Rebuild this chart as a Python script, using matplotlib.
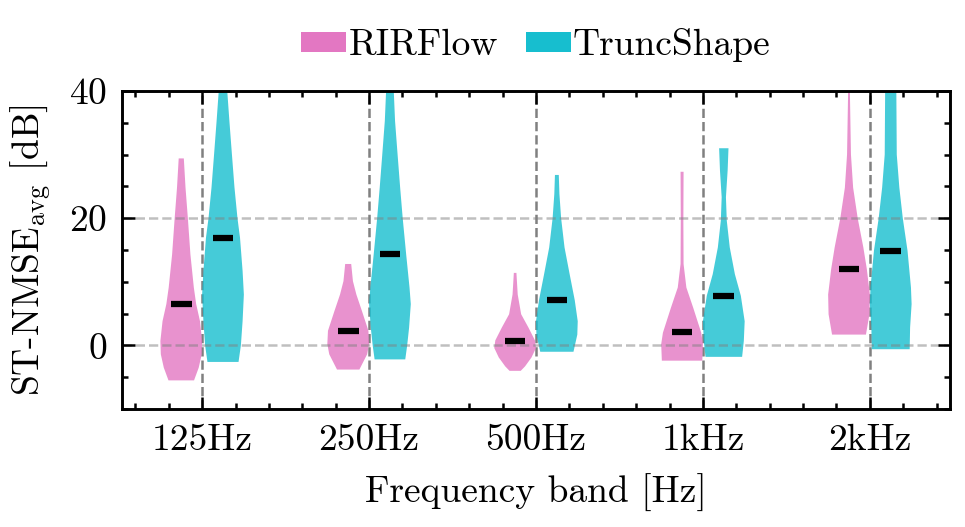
import numpy as np
import matplotlib
matplotlib.use("Agg")
import matplotlib.pyplot as plt
from matplotlib.patches import Patch

plt.rcParams["font.family"] = "serif"
plt.rcParams["font.serif"] = ["cmr10"]
plt.rcParams["mathtext.fontset"] = "cm"
plt.rcParams["axes.formatter.use_mathtext"] = True
plt.rcParams["font.size"] = 9
plt.rcParams["axes.unicode_minus"] = False

bands = ["125Hz", "250Hz", "500Hz", "1kHz", "2kHz"]
methods = ["RIRFlow", "TruncShape"]
colors = ["#e377c2", "#17becf"]

# violin profiles: (y levels, relative density), medians
rirflow_y = [
    [-5.5, -3.5, -1.4, 0.7, 3.8, 6.5, 9.1, 14.3, 20.0, 24.8, 29.4],
    [-3.8, -1.4, 0.2, 2.3, 5.4, 8.0, 10.1, 12.8],
    [-4.0, -3.3, -1.9, -0.4, 0.8, 2.8, 4.9, 8.0, 11.4],
    [-2.4, 0.2, 2.0, 5.9, 9.1, 12.8, 19.6, 27.3],
    [1.7, 4.9, 8.0, 12.0, 15.4, 20.0, 24.8, 30.0, 40.0, 44.0],
]
rirflow_d = [
    [0.60, 0.82, 0.96, 0.98, 0.88, 0.70, 0.59, 0.43, 0.31, 0.20, 0.12],
    [0.52, 0.88, 0.97, 0.94, 0.64, 0.38, 0.22, 0.14],
    [0.26, 0.46, 0.76, 0.97, 0.92, 0.62, 0.28, 0.12, 0.06],
    [0.94, 0.97, 0.89, 0.52, 0.20, 0.07, 0.06, 0.07],
    [0.78, 0.94, 0.96, 0.82, 0.66, 0.40, 0.19, 0.09, 0.04, 0.02],
]
rirflow_med = [6.5, 2.3, 0.7, 2.1, 12.0]

trunc_y = [
    [-2.6, 0.0, 3.8, 8.0, 11.7, 16.9, 20.0, 24.8, 30.0, 35.3, 40.0, 45.0],
    [-2.2, 0.0, 2.8, 6.5, 9.1, 14.4, 20.0, 24.8, 30.0, 35.3, 40.0, 45.0],
    [-1.0, 1.7, 3.8, 7.1, 11.2, 15.4, 20.0, 23.8, 26.8],
    [-1.8, 0.7, 3.8, 7.8, 11.2, 15.4, 19.6, 23.3, 27.5, 31.0],
    [-0.6, 2.8, 6.5, 9.1, 14.9, 20.0, 24.8, 30.0, 40.0, 45.0],
]
trunc_d = [
    [0.73, 0.84, 0.92, 0.98, 0.92, 0.80, 0.68, 0.54, 0.42, 0.30, 0.20, 0.12],
    [0.72, 0.81, 0.90, 0.98, 0.92, 0.76, 0.60, 0.48, 0.36, 0.24, 0.18, 0.12],
    [0.78, 0.96, 0.98, 0.84, 0.60, 0.36, 0.20, 0.12, 0.09],
    [0.86, 0.94, 0.98, 0.80, 0.52, 0.28, 0.14, 0.10, 0.18, 0.22],
    [0.88, 0.90, 0.97, 0.94, 0.78, 0.56, 0.40, 0.28, 0.26, 0.24],
]
trunc_med = [16.9, 14.4, 7.1, 7.8, 14.9]

fig = plt.figure(figsize=(965 / 300, 527 / 300), dpi=300)
ax = fig.add_axes([122 / 965, 1 - 409 / 527, 828 / 965, 318 / 527])

x = np.arange(len(bands))
offset = 0.125
width = 0.25

for ys, ds, meds, col, sgn in [
    (rirflow_y, rirflow_d, rirflow_med, colors[0], -1),
    (trunc_y, trunc_d, trunc_med, colors[1], 1),
]:
    stats = []
    for yy, dd, m in zip(ys, ds, meds):
        stats.append({"coords": np.array(yy), "vals": np.array(dd),
                      "mean": m, "median": m, "min": yy[0], "max": yy[-1]})
    pos = x + sgn * offset
    parts = ax.violin(stats, positions=pos, widths=width, showmeans=False,
                      showextrema=False, showmedians=False)
    for b in parts["bodies"]:
        b.set_facecolor(col)
        b.set_edgecolor("none")
        b.set_alpha(0.8)
    ax.hlines(meds, pos - 0.062, pos + 0.062, color="black", lw=1.5, zorder=3)

for xi in x:
    ax.axvline(xi, color="gray", ls="--", lw=0.6, zorder=0)
ax.grid(axis="y", ls="--", color="gray", alpha=0.5, lw=0.6)

ax.set_xlim(-0.48, 4.48)
ax.set_ylim(-10, 40)
ax.set_xticks(x)
ax.set_xticklabels(bands)
ax.set_yticks([0, 20, 40])
ax.set_xticks(np.arange(-0.4, 4.5, 0.2), minor=True)
ax.set_yticks(np.arange(-10, 41, 5), minor=True)
ax.tick_params(which="both", direction="in", top=True, right=True, width=0.6)
ax.tick_params(which="major", length=3)
ax.tick_params(which="minor", length=1.5)
for s in ax.spines.values():
    s.set_linewidth(0.7)

ax.set_xlabel("Frequency band [Hz]")
ax.set_ylabel(r"ST-NMSE$_{\mathrm{avg}}$ [dB]")

handles = [Patch(facecolor=c, edgecolor="none") for c in colors]
ax.legend(handles, methods, loc="lower center", bbox_to_anchor=(0.5, 0.985),
          ncol=2, frameon=False, handlelength=1.2, handleheight=0.45,
          handletextpad=0.05, columnspacing=0.75)

fig.savefig("out.png", dpi=300)
